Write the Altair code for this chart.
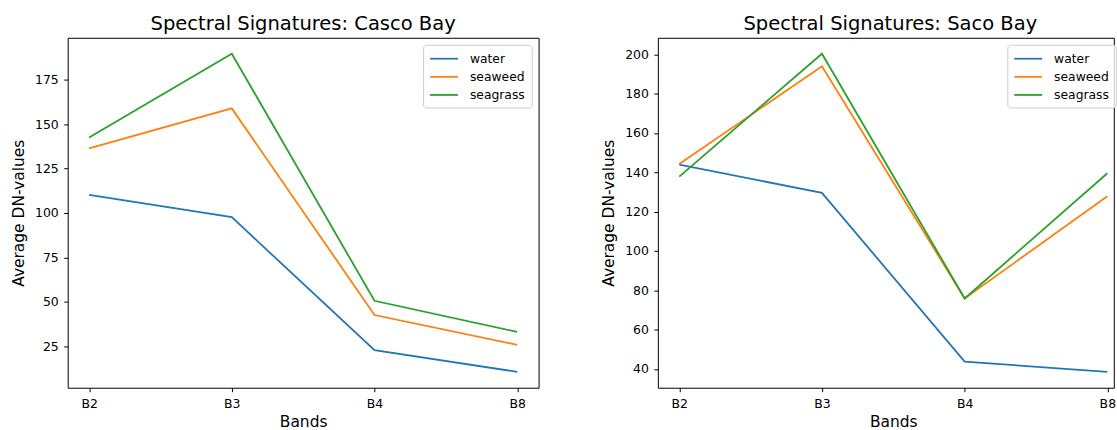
import altair as alt
import pandas as pd

bands = ["B2", "B3", "B4", "B8"]
classes = ["water", "seaweed", "seagrass"]
colors = ["#1f77b4", "#ff7f0e", "#2ca02c"]

casco_water = [110.2, 97.6, 22.7, 10.5]
casco_seaweed = [136.4, 158.9, 42.5, 25.7]
casco_seagrass = [142.5, 189.7, 50.5, 33.0]

saco_water = [143.9, 129.5, 43.7, 38.5]
saco_seaweed = [144.2, 193.9, 75.8, 127.8]
saco_seagrass = [137.8, 200.3, 75.8, 139.5]

casco_ticks = [25, 50, 75, 100, 125, 150, 175]
saco_ticks = [40, 60, 80, 100, 120, 140, 160, 180, 200]

FONT = "DejaVu Sans"


def panel(title, series, ticks, width, xpad, xalign, legend_kw, title_dx, xtitle_kw):
    rows = []
    for cls, vals in zip(classes, series):
        for b, v in zip(bands, vals):
            rows.append({"band": b, "cls": cls, "value": v})
    df = pd.DataFrame(rows)
    allv = [v for s in series for v in s]
    lo, hi = min(allv), max(allv)
    pad = 0.05 * (hi - lo)
    return alt.Chart(df).mark_line(strokeWidth=1.8).encode(
        x=alt.X("band:O", sort=bands,
                scale=alt.Scale(type="point", padding=xpad, align=xalign),
                axis=alt.Axis(title="Bands", labelAngle=0, labelPadding=5.5,
                              titlePadding=4.5, **xtitle_kw)),
        y=alt.Y("value:Q",
                scale=alt.Scale(domain=[lo - pad, hi + pad], nice=False, zero=False),
                axis=alt.Axis(title="Average DN-values", values=ticks,
                              labelPadding=5.5, titlePadding=8)),
        color=alt.Color("cls:N", sort=classes,
                        scale=alt.Scale(domain=classes, range=colors),
                        legend=alt.Legend(title=None,
                                          padding=6, rowPadding=3.2,
                                          symbolType="M-1,0H3", symbolSize=196,
                                          symbolStrokeWidth=1.8,
                                          labelOffset=25, labelFontSize=12.4,
                                          labelFont=FONT, labelColor="black",
                                          strokeColor="#cccccc",
                                          fillColor="rgba(255,255,255,0.8)",
                                          cornerRadius=3, **legend_kw)),
    ).properties(
        width=width, height=351.5,
        title=alt.TitleParams(title, font=FONT, fontSize=19.6, fontWeight="normal",
                              color="black", baseline="top", offset=3.7,
                              anchor="middle", dx=title_dx),
    )


left = panel("Spectral Signatures: Casco Bay",
             [casco_water, casco_seaweed, casco_seagrass], casco_ticks,
             473, 0.15, 0.5, {"orient": "top-right", "offset": 7}, 0, {})
right = panel("Spectral Signatures: Saco Bay",
              [saco_water, saco_seaweed, saco_seagrass], saco_ticks,
              458, 0.0977, 0.768,
              {"orient": "none", "legendX": 351, "legendY": 7}, 4.5,
              {"titleX": 236.5})

chart = alt.hconcat(left, right, spacing=61.8).resolve_scale(
    y="independent", color="independent"
).resolve_legend(color="independent").properties(
    padding={"left": 11, "top": 12, "right": 0, "bottom": 0},
    background="white",
).configure_view(
    stroke="black", strokeWidth=1
).configure_axis(
    labelFont=FONT, labelFontSize=12.5, labelColor="black",
    titleFont=FONT, titleFontSize=15.5, titleFontWeight="normal", titleColor="black",
    tickSize=4, tickColor="black", tickWidth=1, domain=False, grid=False,
)

chart.save("out.html", embed_options={"renderer": "svg", "actions": False})
